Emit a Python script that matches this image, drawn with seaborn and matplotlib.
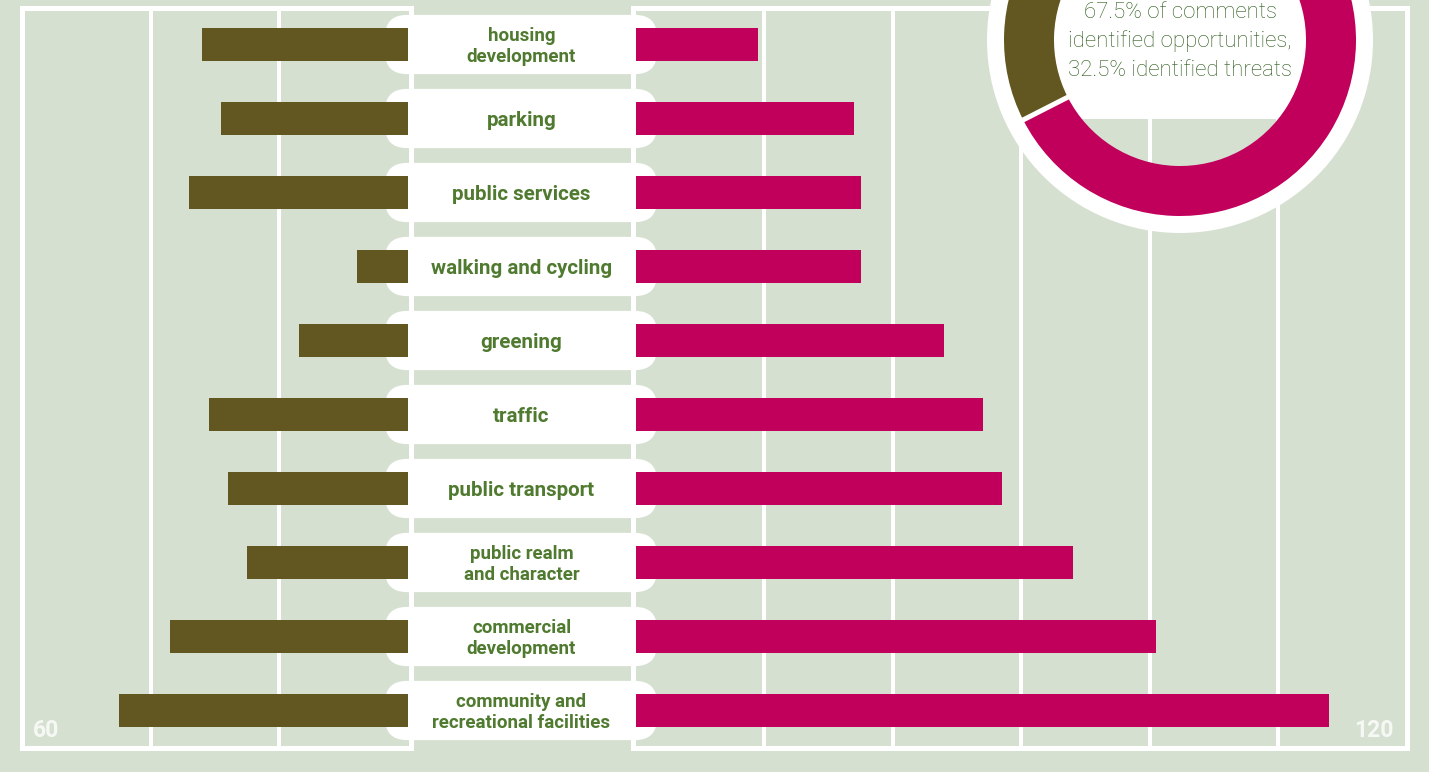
import numpy as np
import pandas as pd
import matplotlib
matplotlib.use("Agg")
import matplotlib.pyplot as plt
import seaborn as sns
from matplotlib.patches import FancyBboxPatch, Wedge, Rectangle
from matplotlib import transforms

# ---------------- data ----------------
categories = ["housing\ndevelopment", "parking", "public services", "walking and cycling",
              "greening", "traffic", "public transport", "public realm\nand character",
              "commercial\ndevelopment", "community and\nrecreational facilities"]
threats = [32, 29, 34, 8, 17, 31, 28, 25, 37, 45]
opportunities = [19, 34, 35, 35, 48, 54, 57, 68, 81, 108]
share_labels = ["threats", "opportunities"]
share_values = [32.5, 67.5]
donut_text = ["67.5% of comments", "identified opportunities,", "32.5% identified threats"]
left_max, right_max = 60, 120
left_grid = [20, 40]
right_grid = [20, 40, 60, 80, 100]

# ---------------- style ----------------
BG = "#d6e0d0"
OLIVE = "#625720"
MAGENTA = "#c0005a"
GREEN_TXT = "#4f7a2f"
DONUT_TXT = "#2c5a1a"

sns.set_style("white")
plt.rcParams["font.family"] = ["Roboto", "DejaVu Sans"]

W, H = 1429, 772
fig = plt.figure(figsize=(W / 100, H / 100), dpi=100, facecolor=BG)

y_top, y_bot = 7.5, 747.5
ph = (y_bot - y_top) / H
pb = (H - y_bot) / H
px_per_row = (y_bot - y_top) / len(categories)

df = pd.DataFrame({"category": categories, "threats": threats, "opportunities": opportunities})

# middle label column
axM = fig.add_axes([380 / W, pb, 282 / W, ph], zorder=0)
axM.set_xlim(0, 282)
axM.set_ylim(len(categories) - 0.5, -0.5)
axM.axis("off")
for i, lab in enumerate(categories):
    pill = FancyBboxPatch((5, i - 0.4), 272, 0.8,
                          boxstyle="round,pad=0,rounding_size=22",
                          mutation_aspect=1 / px_per_row,
                          fc="white", ec="none")
    axM.add_patch(pill)
    lines = lab.split("\n")
    if len(lines) == 1:
        offs, fs = [8], 14.8
    else:
        offs, fs = [-3.5, 18], 13.5
    for ln, off in zip(lines, offs):
        tr = transforms.offset_copy(axM.transData, fig=fig, x=0, y=-off, units="dots")
        axM.text(141.5, i, ln, transform=tr, ha="center", va="baseline",
                 fontsize=fs, fontweight="bold", color=GREEN_TXT)

# panels
axL = fig.add_axes([22 / W, pb, 386 / W, ph], zorder=1)
axR = fig.add_axes([636 / W, pb, 770.5 / W, ph], zorder=1)

sns.barplot(data=df, x="threats", y="category", color=OLIVE, saturation=1,
            width=0.446, orient="h", ax=axL, linewidth=0, edgecolor="none")
sns.barplot(data=df, x="opportunities", y="category", color=MAGENTA, saturation=1,
            width=0.446, orient="h", ax=axR, linewidth=0, edgecolor="none")

for ax, xlim, grid in [(axL, (left_max, 0), left_grid), (axR, (0, right_max), right_grid)]:
    ax.set_facecolor("none")
    ax.set_xlim(*xlim)
    ax.set_ylim(len(categories) - 0.5, -0.5)
    ax.set_xticks(grid)
    ax.set_yticks([])
    ax.set_xlabel("")
    ax.set_ylabel("")
    ax.tick_params(length=0, labelbottom=False, labelleft=False)
    ax.set_axisbelow(True)
    ax.grid(axis="x", color="white", linewidth=2.9)
    ax.grid(axis="y", visible=False)
    for s in ax.spines.values():
        s.set_visible(True)
        s.set_color("white")
        s.set_linewidth(3.6)
        s.set_capstyle("projecting")
        s.set_zorder(5)

axL.spines["right"].set_position(("outward", 1.8))
axR.spines["left"].set_position(("outward", 2.2))

axL.text(11 / 386, 10.5 / 740, str(left_max), transform=axL.transAxes, ha="left",
         va="baseline", fontsize=16.5, fontweight="bold", color="white", alpha=0.8)
axR.text(1 - 13.5 / 770.5, 10.5 / 740, str(right_max), transform=axR.transAxes, ha="right",
         va="baseline", fontsize=16.5, fontweight="bold", color="white", alpha=0.8)

# donut
R = 193.0
axD = fig.add_axes([987 / W, (H - 233) / H, 2 * R / W, 2 * R / H], zorder=3)
axD.add_patch(Wedge((0, 0), 1.0, 0, 360, width=1.0 - 170 / R, fc="white", ec="none", zorder=0))
axD.add_patch(Rectangle((-0.75, -79 / R), 1.5, 1.6, fc="white", ec="none", zorder=0.5))
axD.pie(share_values, colors=[OLIVE, MAGENTA], startangle=90, counterclock=True,
        radius=176 / R, wedgeprops=dict(width=50 / R, linewidth=0))
cum = 90.0
for v in share_values:
    a = np.deg2rad(cum)
    axD.plot([0.6 * np.cos(a), 0.95 * np.cos(a)], [0.6 * np.sin(a), 0.95 * np.sin(a)],
             color="white", linewidth=3.6, solid_capstyle="butt", zorder=3)
    cum += 360 * v / sum(share_values)
for ln, base in zip(donut_text, [18.3, 47.3, 76.5]):
    axD.text(0, (40 - base) / R, ln, ha="center", va="baseline", fontsize=16,
             fontweight="light", color=DONUT_TXT, zorder=4)
axD.set_xlim(-1, 1)
axD.set_ylim(-1, 1)
axD.set_aspect("auto")
axD.axis("off")

fig.savefig("out.png", dpi=100, facecolor=BG)
